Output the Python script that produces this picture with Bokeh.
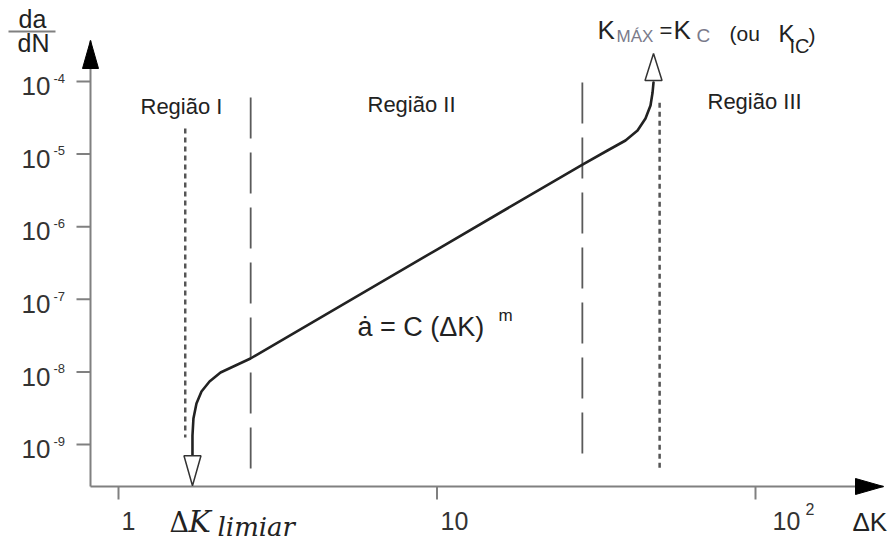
import math
from bokeh.plotting import figure
from bokeh.models import Label, Range1d
from bokeh.embed import file_html
from bokeh.resources import INLINE

# ---------------- data ----------------
curve_dk = [1.707, 1.707, 1.719, 1.757, 1.822, 1.931, 2.091, 2.330, 2.597,
            10.0, 28.63, 34.30, 39.07, 42.62, 45.14, 46.81, 47.5, 47.84]
curve_rate = [7.05e-10, 1.33e-9, 2.28e-9, 3.67e-9, 5.37e-9, 7.38e-9, 9.82e-9,
              1.225e-8, 1.53e-8, 4.85e-7, 7.19e-6, 1.121e-5, 1.54e-5, 2.11e-5,
              3.09e-5, 4.67e-5, 7.0e-5, 9.69e-5]

threshold_dk = 1.707          # Delta K limiar
threshold_tip_rate = 2.7e-10
kmax_dk = 47.84               # K max
kmax_tip_rate = 2.43e-4

boundary_dk = [2.6, 28.6]                  # region boundaries (long dashes)
boundary_top = [6.0e-5, 9.7e-5]
boundary_bottom = [4.4e-10, 6.6e-10]

limit_dk = [1.62, 50.0]                    # dotted guide lines
limit_top = [2.25e-5, 5.1e-5]
limit_bottom = [1.25e-9, 4.4e-10]

x_ticks = [1, 10, 100]
x_tick_labels = ["1", "10", "10"]
x_tick_sups = ["", "", "2"]
y_ticks = [1e-9, 1e-8, 1e-7, 1e-6, 1e-5, 1e-4]
y_tick_labels = ["10", "10", "10", "10", "10", "10"]
y_tick_sups = ["-9", "-8", "-7", "-6", "-5", "-4"]

region_names = ["Região I", "Região II", "Região III"]

# ---------------- layout ----------------
W, H = 891, 544
X0, X1 = 0.42608, 267.30
Y0, Y1 = 4.1948e-11, 1.3055e-3
LX0, LX1 = math.log10(X0), math.log10(X1)
LY0, LY1 = math.log10(Y0), math.log10(Y1)


def px_of(x):
    return (math.log10(x) - LX0) / (LX1 - LX0) * W


def x_of(px):
    return 10 ** (LX0 + px / W * (LX1 - LX0))


def py_of(y):
    return (LY1 - math.log10(y)) / (LY1 - LY0) * H


def y_of(py):
    return 10 ** (LY1 - py / H * (LY1 - LY0))


SANS = "Liberation Sans"
SERIF = "DejaVu Serif"
INK = "#222222"
TICKTXT = "#333333"
GRAY = "#808080"

# axis placement (pixels of the picture)
AX_PX, AX_PY = 90, 486
AXIS_X = x_of(AX_PX)
AXIS_Y = y_of(AX_PY)
Y_TOP = y_of(40)
X_END = x_of(883)

p = figure(width=W, height=H, x_axis_type="log", y_axis_type="log",
           x_range=Range1d(X0, X1), y_range=Range1d(Y0, Y1),
           x_axis_location=None, y_axis_location=None,
           toolbar_location=None, output_backend="svg", min_border=0)
p.grid.visible = False
p.outline_line_color = None
p.background_fill_color = "white"
p.border_fill_color = "white"

# axes: lines, ticks, arrowheads
p.segment(x0=[AXIS_X, AXIS_X], y0=[AXIS_Y, AXIS_Y], x1=[X_END, AXIS_X],
          y1=[AXIS_Y, Y_TOP], line_color=GRAY, line_width=2)
p.segment(x0=x_ticks, y0=[AXIS_Y] * len(x_ticks), x1=x_ticks,
          y1=[y_of(AX_PY + 13)] * len(x_ticks), line_color=GRAY, line_width=2)
p.segment(x0=[x_of(AX_PX - 14)] * len(y_ticks), y0=y_ticks,
          x1=[AXIS_X] * len(y_ticks), y1=y_ticks, line_color=GRAY, line_width=2)
p.patch([AXIS_X, x_of(AX_PX - 8), x_of(AX_PX + 8)],
        [Y_TOP, y_of(68), y_of(68)], fill_color="black", line_color="black",
        line_width=1)
p.patch([X_END, x_of(855), x_of(855)],
        [AXIS_Y, y_of(AX_PY - 8), y_of(AX_PY + 8)], fill_color="black",
        line_color="black", line_width=1)

# guide lines
p.segment(x0=boundary_dk, y0=boundary_top, x1=boundary_dk, y1=boundary_bottom,
          line_color="#5a5a5a", line_width=1.8, line_dash="41 14")
p.segment(x0=limit_dk, y0=limit_top, x1=limit_dk, y1=limit_bottom,
          line_color="#555555", line_width=2.5, line_dash="5 4")

# curve
p.line(curve_dk, curve_rate, line_color=INK, line_width=2.6,
       line_join="round", line_cap="round")

# hollow arrowheads at both ends of the curve
HW = 8.5
tx = px_of(threshold_dk)
ty = py_of(threshold_tip_rate)
p.patch([threshold_dk, x_of(tx - HW), x_of(tx + HW)],
        [threshold_tip_rate, y_of(ty - 30), y_of(ty - 30)],
        fill_color="white", line_color="#333333", line_width=1.5)
kx = px_of(kmax_dk)
ky = py_of(kmax_tip_rate)
p.patch([kmax_dk, x_of(kx - HW), x_of(kx + HW)],
        [kmax_tip_rate, y_of(ky + 27), y_of(ky + 27)],
        fill_color="white", line_color="#333333", line_width=1.5)

# fraction bar of da/dN
p.segment(x0=[x_of(8)], y0=[y_of(31)], x1=[x_of(55)], y1=[y_of(31)],
          line_color=GRAY, line_width=2)


def lab(x, y, text, size, align="left", color=INK, font=SANS, style="normal",
        xo=0, yo=0):
    # baseline correction (text is drawn a bit below the requested baseline)
    yo = yo + 0.4 * size
    p.add_layout(Label(x=x, y=y, text=text, text_font=font,
                       text_font_size=f"{size}px", text_font_style=style,
                       text_color=color, text_align=align,
                       text_baseline="alphabetic", x_offset=xo, y_offset=yo))


# y tick labels
for t, txt, sup in zip(y_ticks, y_tick_labels, y_tick_sups):
    lab(x_of(50), t, txt, 26, align="right", color=TICKTXT, yo=-15)
    lab(x_of(53), t, sup, 13, color=TICKTXT, yo=-2)

# x tick labels
x_label_offsets = [10, 17.5, 31]
for t, txt, sup, off in zip(x_ticks, x_tick_labels, x_tick_sups, x_label_offsets):
    lab(t, AXIS_Y, txt, 25, align="center", color=TICKTXT, xo=off, yo=-44)
    if sup:
        lab(t, AXIS_Y, sup, 16, color=TICKTXT, xo=50, yo=-29)

# axis titles
lab(x_of(852), y_of(532), "ΔK", 26)
lab(x_of(32), y_of(28), "da", 25, align="center")
lab(x_of(33), y_of(52), "dN", 25, align="center")

# region names
region_px = [(140, 115), (367, 113), (707, 110)]
for name, (rx, ry) in zip(region_names, region_px):
    lab(x_of(rx), y_of(ry), name, 22)

# Paris law
lab(x_of(357), y_of(337), "ȧ = C (ΔK)", 27)
lab(x_of(498), y_of(322), "m", 17)

# threshold label
lab(x_of(169), y_of(533), "Δ", 27, font=SERIF)
lab(x_of(188), y_of(533), "K", 30, font=SERIF, style="italic")
lab(x_of(217), y_of(537), "limiar", 26, font=SERIF, style="italic")

# K max label
lab(x_of(597), y_of(40), "K", 26)
lab(x_of(616), y_of(43), "MÁX", 17, color="#7a7a8a")
lab(x_of(659), y_of(39), "=", 22)
lab(x_of(673), y_of(40), "K", 26)
lab(x_of(696), y_of(43), "C", 19, color="#7a7a8a")
lab(x_of(729), y_of(41), "(ou", 21)
lab(x_of(778), y_of(43), "K", 24)
lab(x_of(789), y_of(53), "IC", 20)
lab(x_of(808), y_of(43), ")", 21)

open("out.html", "w").write(file_html(p, INLINE))
